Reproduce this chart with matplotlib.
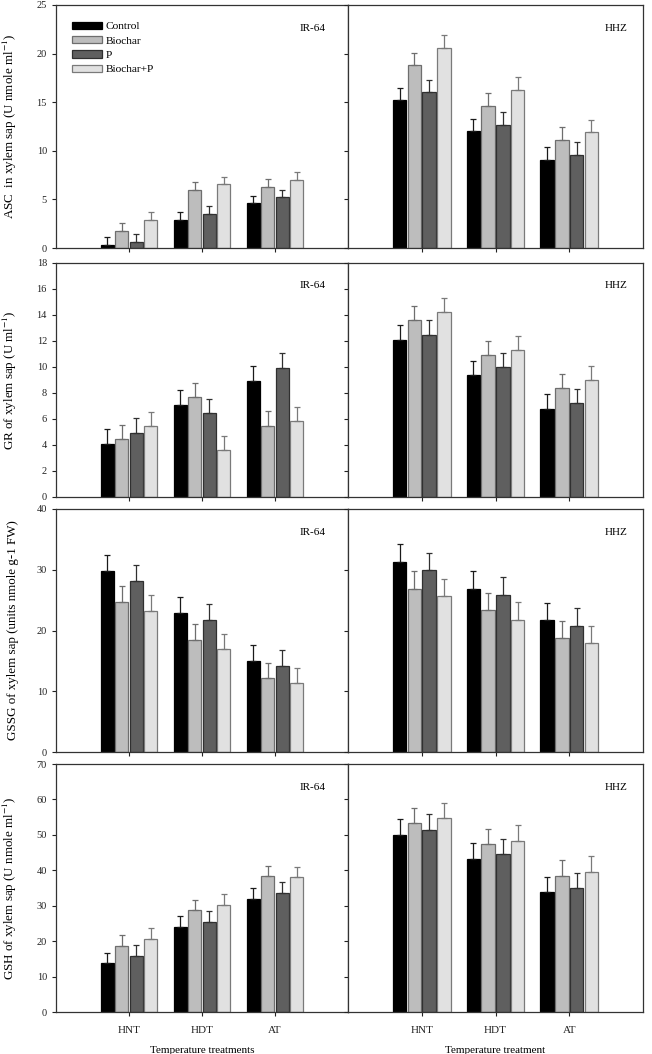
import matplotlib
matplotlib.use("Agg")
import matplotlib.pyplot as plt
import numpy as np

plt.rcParams['font.family'] = ['Liberation Serif', 'DejaVu Serif']
plt.rcParams['mathtext.fontset'] = 'stix'

treatments = ['HNT', 'HDT', 'AT']
series = ['Control', 'Biochar', 'P', 'Biochar+P']
colors = ['#000000', '#bdbdbd', '#5f5f5f', '#e1e1e1']
edges = ['#000000', '#6e6e6e', '#303030', '#7a7a7a']

# values per panel: rows = series, cols = treatments (HNT, HDT, AT)
asc_ir64 = [[0.3, 2.9, 4.6], [1.8, 6.0, 6.25], [0.6, 3.5, 5.2], [2.9, 6.55, 7.0]]
asc_ir64_err = [[0.8, 0.8, 0.8], [0.8, 0.8, 0.8], [0.8, 0.8, 0.8], [0.8, 0.8, 0.8]]
asc_hhz = [[15.2, 12.0, 9.1], [18.8, 14.65, 11.1], [16.0, 12.7, 9.6], [20.6, 16.3, 11.9]]
asc_hhz_err = [[1.3, 1.3, 1.3], [1.3, 1.3, 1.3], [1.3, 1.3, 1.3], [1.3, 1.25, 1.25]]

gr_ir64 = [[4.1, 7.1, 8.95], [4.45, 7.7, 5.5], [4.95, 6.45, 9.95], [5.45, 3.6, 5.85]]
gr_ir64_err = [[1.1, 1.1, 1.1], [1.1, 1.1, 1.1], [1.1, 1.1, 1.1], [1.1, 1.1, 1.1]]
gr_hhz = [[12.1, 9.4, 6.8], [13.6, 10.9, 8.4], [12.5, 10.0, 7.2], [14.2, 11.3, 9.0]]
gr_hhz_err = [[1.1, 1.1, 1.1], [1.1, 1.1, 1.1], [1.1, 1.1, 1.1], [1.1, 1.1, 1.1]]

gssg_ir64 = [[29.8, 22.9, 15.0], [24.7, 18.5, 12.1], [28.2, 21.7, 14.2], [23.2, 16.9, 11.3]]
gssg_ir64_err = [[2.6, 2.6, 2.6], [2.6, 2.6, 2.6], [2.6, 2.6, 2.6], [2.6, 2.6, 2.6]]
gssg_hhz = [[31.3, 26.9, 21.7], [26.9, 23.3, 18.7], [29.9, 25.9, 20.8], [25.6, 21.8, 17.9]]
gssg_hhz_err = [[2.9, 2.9, 2.9], [2.9, 2.9, 2.9], [2.9, 2.9, 2.9], [2.9, 2.9, 2.9]]

gsh_ir64 = [[13.7, 24.0, 32.0], [18.6, 28.7, 38.3], [15.9, 25.5, 33.6], [20.7, 30.3, 38.0]]
gsh_ir64_err = [[3.0, 3.0, 3.0], [3.0, 3.0, 3.0], [3.0, 3.0, 3.0], [3.0, 3.0, 3.0]]
gsh_hhz = [[50.1, 43.3, 34.0], [53.4, 47.3, 38.5], [51.5, 44.7, 34.9], [54.7, 48.4, 39.6]]
gsh_hhz_err = [[4.4, 4.3, 4.2], [4.3, 4.4, 4.3], [4.3, 4.2, 4.4], [4.2, 4.3, 4.3]]

ylabels = ['ASC  in xylem sap (U nmole ml$^{-1}$)',
           'GR of xylem sap (U ml$^{-1}$)',
           'GSSG of xylem sap (units nmole g-1 FW)',
           'GSH of xylem sap (U nmole ml$^{-1}$)']
ylims = [(25, 5), (18, 2), (40, 10), (70, 10)]

panels = [
    (asc_ir64, asc_ir64_err, asc_hhz, asc_hhz_err),
    (gr_ir64, gr_ir64_err, gr_hhz, gr_hhz_err),
    (gssg_ir64, gssg_ir64_err, gssg_hhz, gssg_hhz_err),
    (gsh_ir64, gsh_ir64_err, gsh_hhz, gsh_hhz_err),
]

W, H = 652, 1054
fig = plt.figure(figsize=(W / 100, H / 100), dpi=100)

rows_px = [(5, 248), (263, 497), (509, 752), (764, 1012)]
left_px = (56, 348)
right_px = (348, 643)

x = np.arange(1, 4)
offsets = [-0.3, -0.1, 0.1, 0.3]
bw = 0.18


def draw_bars(ax, vals, errs):
    for i in range(4):
        v = np.array(vals[i])
        e = np.array(errs[i])
        ax.bar(x + offsets[i], v, width=bw, color=colors[i], edgecolor=edges[i],
               linewidth=0.9, label=series[i], zorder=2)
        ax.errorbar(x + offsets[i], v, yerr=[np.zeros(3), e], fmt='none',
                    ecolor=edges[i] if i else '#1a1a1a', elinewidth=0.9,
                    capsize=2.2, capthick=0.9, zorder=3)


def style(ax, ymax, ystep, labels_y, bottom):
    ax.set_xlim(0, 4)
    ax.set_ylim(0, ymax)
    ax.set_yticks(np.arange(0, ymax + 0.01, ystep))
    ax.set_xticks(x)
    ax.tick_params(direction='out', length=3, width=0.8, labelsize=7.5, colors='#222222')
    ax.tick_params(axis='x', pad=7)
    if bottom:
        ax.set_xticklabels(treatments, fontsize=8)
    else:
        ax.set_xticklabels([])
    if not labels_y:
        ax.set_yticklabels([])
    for s in ax.spines.values():
        s.set_linewidth(0.9)
        s.set_color('#333333')


for r, (ir, ir_e, hz, hz_e) in enumerate(panels):
    top, bot = rows_px[r]
    y0 = 1 - bot / H
    h = (bot - top) / H
    axl = fig.add_axes([left_px[0] / W, y0, (left_px[1] - left_px[0]) / W, h])
    axr = fig.add_axes([right_px[0] / W, y0, (right_px[1] - right_px[0]) / W, h])
    ymax, ystep = ylims[r]
    draw_bars(axl, ir, ir_e)
    draw_bars(axr, hz, hz_e)
    bottom = r == 3
    style(axl, ymax, ystep, True, bottom)
    style(axr, ymax, ystep, False, bottom)
    axl.set_ylabel(ylabels[r], fontsize=9.4)
    axl.yaxis.set_label_coords(-0.125, 0.5)
    axl.text(0.88, 0.905, 'IR-64', transform=axl.transAxes, fontsize=8,
             ha='center', va='center')
    axr.text(0.91, 0.905, 'HHZ', transform=axr.transAxes, fontsize=8,
             ha='center', va='center')
    if bottom:
        axl.set_xlabel('Temperature treatments', fontsize=8, labelpad=8)
        axr.set_xlabel('Temperature treatment', fontsize=8, labelpad=8)
    if r == 0:
        axl.legend(loc='upper left', bbox_to_anchor=(0.03, 0.96), frameon=False,
                   fontsize=8.2, handlelength=2.7, handleheight=0.6,
                   labelspacing=0.42, handletextpad=0.3, borderaxespad=0.2)

fig.savefig('out.png', dpi=100)
